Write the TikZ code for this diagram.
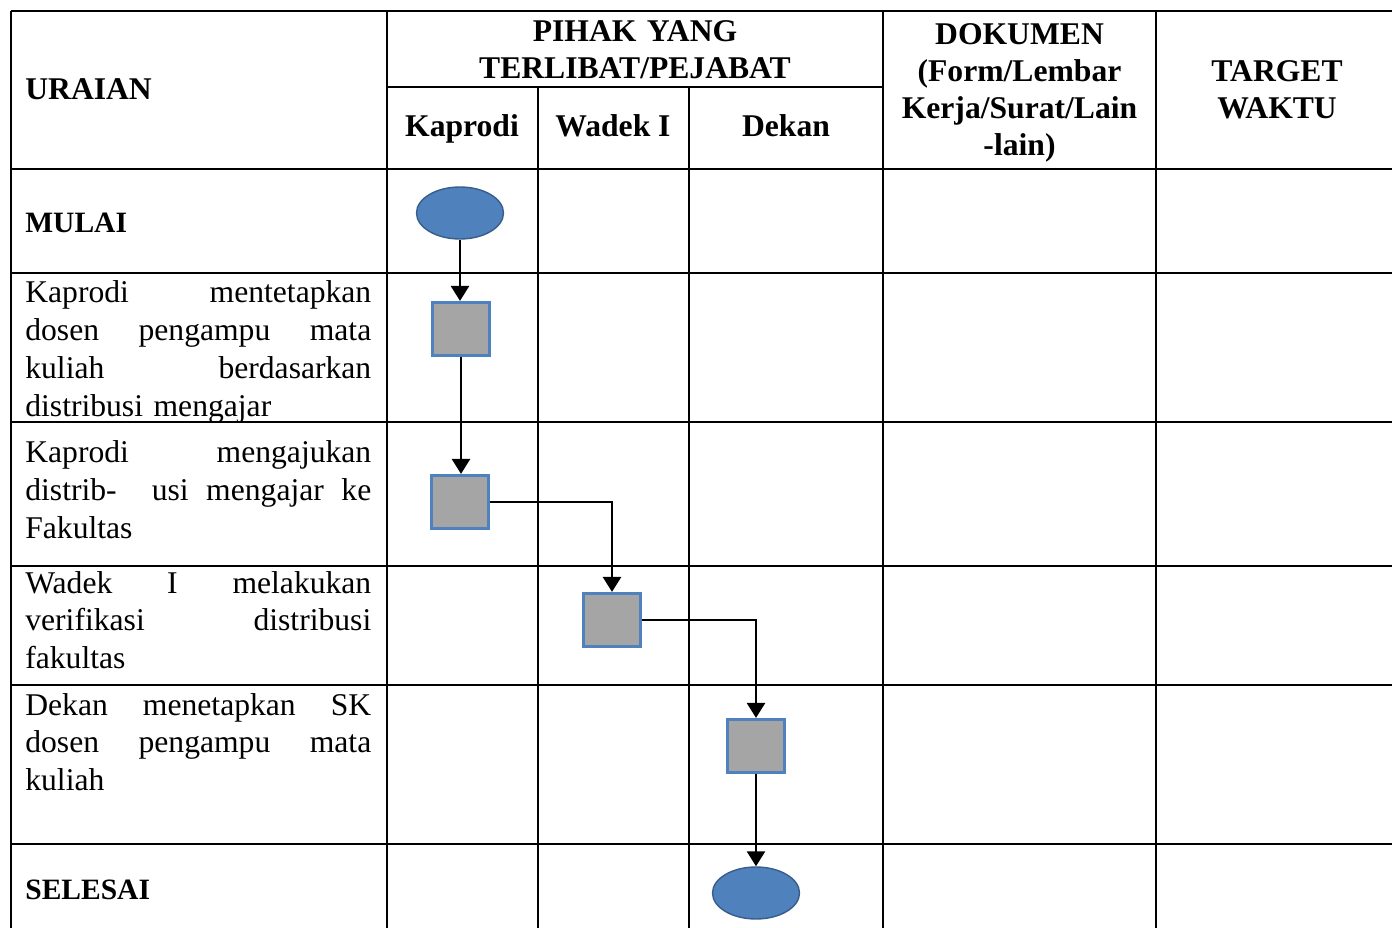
\documentclass[tikz,border=0pt]{standalone}
\usepackage{fontspec}
\setmainfont{Liberation Serif}
\usetikzlibrary{arrows.meta,positioning,shapes.geometric}
\definecolor{flowblue}{HTML}{4F81BD}
\definecolor{flowedge}{HTML}{385D8A}
\definecolor{flowgray}{HTML}{A5A5A5}
\tikzset{
  gridline/.style={draw=black,line width=1.6pt},
  startend/.style={ellipse,draw=flowedge,fill=flowblue,line width=0.8pt,
                   minimum width=1.74cm,minimum height=1.04cm,inner sep=0pt},
  stepbox/.style={rectangle,draw=flowblue,fill=flowgray,line width=1.8pt,
                  minimum width=1.14cm,minimum height=1.06cm,inner sep=0pt},
  flowarr/.style={-{Triangle[length=0.3cm,width=0.36cm]},line width=1.5pt},
  headtext/.style={font=\fontsize{18}{21}\selectfont\bfseries,inner sep=0pt,
                   align=center,anchor=base},
  rowhead/.style={font=\fontsize{16.8}{20}\selectfont\bfseries,inner sep=0pt,
                  anchor=base west},
  celltext/.style={font=\fontsize{18}{21.6}\selectfont,inner sep=0pt,
                   text width=6.92cm,align=left,anchor=base west}
}
\begin{document}
\begin{tikzpicture}[x=0.02cm,y=-0.02cm]
  \clip (0,0) rectangle (1392,928);
  % table grid
  \foreach \y in {11,169,273,422,566,685,844}
    \draw[gridline] (11,\y) -- (1400,\y);
  \draw[gridline] (387,87) -- (883,87);
  \foreach \x in {11,387,883,1156,1398}
    \draw[gridline] (\x,11) -- (\x,940);
  \foreach \x in {538,689}
    \draw[gridline] (\x,87) -- (\x,940);
  % header
  \node[headtext,anchor=base west] (uraian) at (25,100) {URAIAN};
  \node[headtext,text width=9cm] (pihak) at (635,42) {PIHAK YANG\\TERLIBAT/PEJABAT};
  \node[headtext] (kaprodi) at (462,137) {Kaprodi};
  \node[headtext] (wadek) at (613,137) {Wadek I};
  \node[headtext] (dekan) at (786,137) {Dekan};
  \node[headtext,text width=5.3cm] (dokumen) at (1019.5,45)
    {DOKUMEN\\(Form/Lembar\\Kerja/Surat/Lain\\-lain)};
  \node[headtext,text width=4.5cm] (target) at (1277,82) {TARGET\\WAKTU};
  % uraian column
  \node[rowhead] (mulai) at (25,233) {MULAI};
  \node[celltext] (txtA) at (25,303)
    {Kaprodi\hfill mentetapkan\\dosen\hfill pengampu\hfill mata\\kuliah\hfill berdasarkan\\distribusi mengajar};
  \node[celltext] (txtB) at (25,463)
    {Kaprodi\hfill mengajukan\\distrib-\hfill\hfill usi\hfill mengajar\hfill ke\\Fakultas};
  \node[celltext] (txtC) at (25,593)
    {Wadek\hfill I\hfill melakukan\\verifikasi\hfill distribusi\\fakultas};
  \node[celltext] (txtD) at (25,715)
    {Dekan\hfill menetapkan\hfill SK\\dosen\hfill pengampu\hfill mata\\kuliah};
  \node[rowhead] (selesai) at (25,899) {SELESAI};
  % flow shapes
  \node[startend] (start) at (460,213) {};
  \node[stepbox] (stepA) at (461,329) {};
  \node[stepbox] (stepB) at (460,502) {};
  \node[stepbox] (stepC) at (612,620) {};
  \node[stepbox] (stepD) at (756,746) {};
  \node[startend] (finish) at (756,893) {};
  % connectors
  \draw[flowarr] (start.south) -- (start.south |- stepA.north);
  \draw[flowarr] (stepA.south) -- (stepA.south |- stepB.north);
  \draw[flowarr] (stepB.east) -| (stepC.north);
  \draw[flowarr] (stepC.east) -| (stepD.north);
  \draw[flowarr] (stepD.south) -- (finish.north);
\end{tikzpicture}
\end{document}
